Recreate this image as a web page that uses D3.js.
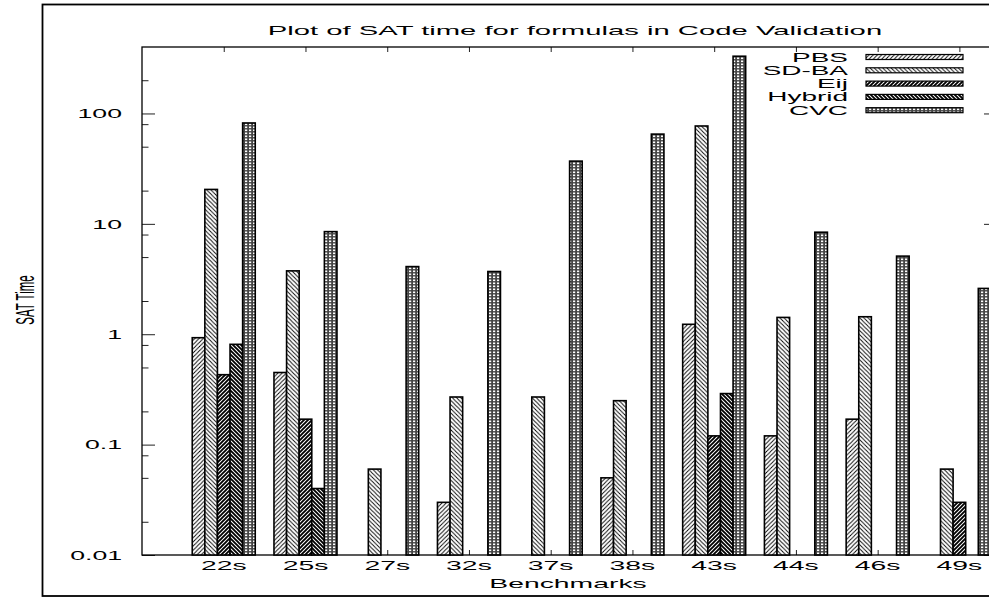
<!DOCTYPE html>
<html>
<head>
<meta charset="utf-8">
<script src="https://cdn.jsdelivr.net/npm/d3@7"></script>
<style>
  body { margin: 0; background: #fff; }
  svg { display: block; font-family: "Liberation Sans", Arial, sans-serif; }
</style>
</head>
<body>
<div class="vis-container"></div>
<script>
var categories = ["22s", "25s", "27s", "32s", "37s", "38s", "43s", "44s", "46s", "49s"];
var seriesNames = ["PBS", "SD-BA", "Eij", "Hybrid", "CVC"];
var pbs    = [0.93, 0.45, null, 0.03, null, 0.05, 1.23, 0.12, 0.17, null];
var sdba   = [20.5, 3.75, 0.06, 0.27, 0.27, 0.25, 77, 1.42, 1.44, 0.06];
var eij    = [0.43, 0.17, null, null, null, null, 0.12, null, null, 0.03];
var hybrid = [0.81, 0.04, null, null, null, null, 0.29, null, null, null];
var cvc    = [82, 8.5, 4.1, 3.7, 37, 65, 330, 8.4, 5.1, 2.6];
var seriesValues = [pbs, sdba, eij, hybrid, cvc];

var yMajorTicks = [0.01, 0.1, 1, 10, 100];
var yTickLabels = ["0.01", "0.1", "1", "10", "100"];
var yMinorTicks = [0.02, 0.05, 0.08, 0.2, 0.5, 0.8, 2, 5, 8, 20, 50, 80, 200];

var width = 989, height = 597;
var plotLeft = 142, plotRight = 997, plotTop = 47, plotBottom = 555;

var svg = d3.select(".vis-container").append("svg")
  .attr("width", width)
  .attr("height", height);

// fill patterns, one per series
var defs = svg.append("defs");
function hatch(id, dir, sw, step) {
  var p = defs.append("pattern")
    .attr("id", id)
    .attr("patternUnits", "userSpaceOnUse")
    .attr("width", step)
    .attr("height", step);
  p.append("rect").attr("width", step).attr("height", step).attr("fill", "#fff");
  var d = dir > 0
    ? "M-1,1 l2,-2 M0," + step + " l" + step + ",-" + step + " M" + (step - 1) + "," + (step + 1) + " l2,-2"
    : "M-1," + (step - 1) + " l2,2 M0,0 l" + step + "," + step + " M" + (step - 1) + ",-1 l2,2";
  p.append("path").attr("d", d).attr("stroke", "#000").attr("stroke-width", sw);
}
hatch("pat0", 1, 0.9, 4.2);
hatch("pat1", -1, 0.9, 4.2);
hatch("pat2", 1, 1.9, 4);
hatch("pat3", -1, 1.9, 4);
var cv = defs.append("pattern")
  .attr("id", "pat4")
  .attr("patternUnits", "userSpaceOnUse")
  .attr("width", 4)
  .attr("height", 3);
cv.append("rect").attr("width", 4).attr("height", 3).attr("fill", "#444");
cv.append("rect").attr("x", 1).attr("y", 0.5).attr("width", 2.2).attr("height", 1.6).attr("fill", "#fff");

var x = d3.scaleLinear().domain([-1, 9.46]).range([plotLeft, plotRight]);
var sub = d3.scaleBand().domain(seriesNames).range([-31.5, 31.5]);
var y = d3.scaleLog().domain([0.01, 400]).range([plotBottom, plotTop]);

// outer frame
svg.append("rect")
  .attr("x", 42.5).attr("y", 4.5)
  .attr("width", 1200).attr("height", 591.5)
  .attr("fill", "none").attr("stroke", "#000").attr("stroke-width", 1.8);

// ticks, all pointing inward
function tickAxis(axis, tx, ty) {
  var g = svg.append("g").attr("transform", "translate(" + tx + "," + ty + ")").call(axis);
  g.select(".domain").remove();
  g.selectAll(".tick line").attr("stroke", "#222");
  return g;
}
tickAxis(d3.axisLeft(y).tickValues(yMajorTicks).tickSize(-13).tickFormat(""), plotLeft, 0);
tickAxis(d3.axisLeft(y).tickValues(yMinorTicks).tickSize(-6.5).tickFormat(""), plotLeft, 0);
tickAxis(d3.axisRight(y).tickValues(yMajorTicks).tickSize(-13).tickFormat(""), plotRight, 0);
tickAxis(d3.axisRight(y).tickValues(yMinorTicks).tickSize(-6.5).tickFormat(""), plotRight, 0);
tickAxis(d3.axisBottom(x).tickValues(d3.range(categories.length)).tickSize(-5).tickFormat(""), 0, plotBottom);
tickAxis(d3.axisTop(x).tickValues(d3.range(categories.length)).tickSize(-5).tickFormat(""), 0, plotTop);

// plot border
svg.append("rect")
  .attr("x", plotLeft).attr("y", plotTop)
  .attr("width", plotRight - plotLeft).attr("height", plotBottom - plotTop)
  .attr("fill", "none").attr("stroke", "#000").attr("stroke-width", 1.3);

// bars
seriesNames.forEach(function(name, s) {
  var rows = seriesValues[s]
    .map(function(v, i) { return { i: i, v: v }; })
    .filter(function(d) { return d.v != null; });
  svg.append("g").selectAll("rect")
    .data(rows)
    .enter().append("rect")
    .attr("x", function(d) { return x(d.i) + sub(name); })
    .attr("y", function(d) { return y(d.v); })
    .attr("width", sub.bandwidth())
    .attr("height", function(d) { return plotBottom - y(d.v); })
    .attr("fill", "url(#pat" + s + ")")
    .attr("stroke", "#000")
    .attr("stroke-width", 1.6);
});

// stretched text, the original is widened horizontally
function wideText(str, tx, ty, size, sx, anchor) {
  return svg.append("text")
    .attr("transform", "translate(" + tx + "," + ty + ") scale(" + sx + ",1)")
    .attr("text-anchor", anchor)
    .attr("font-size", size)
    .attr("fill", "#000")
    .text(str);
}

yMajorTicks.forEach(function(t, i) {
  wideText(yTickLabels[i], 122, y(t) + 4.8, 13, 2.05, "end");
});
categories.forEach(function(c, i) {
  wideText(c, x(i), 570, 13.5, 2.1, "middle");
});
wideText("Benchmarks", 568, 587.5, 13.5, 2.1, "middle");
wideText("Plot of SAT time for formulas in Code Validation", 575, 35, 12.5, 2.34, "middle");

svg.append("text")
  .attr("transform", "translate(25,300) scale(2.3,1) rotate(-90)")
  .attr("text-anchor", "middle")
  .attr("dominant-baseline", "central")
  .attr("font-size", 11.5)
  .text("SAT Time");

// legend
var legend = svg.append("g");
seriesNames.forEach(function(name, s) {
  var cy = 57 + s * 13.3;
  wideText(name, 848, cy + 4.5, 13, 2.15, "end");
  legend.append("rect")
    .attr("x", 866).attr("y", cy - 2.5)
    .attr("width", 97).attr("height", 5)
    .attr("fill", "url(#pat" + s + ")")
    .attr("stroke", "#000")
    .attr("stroke-width", 1.2);
});
</script>
</body>
</html>
